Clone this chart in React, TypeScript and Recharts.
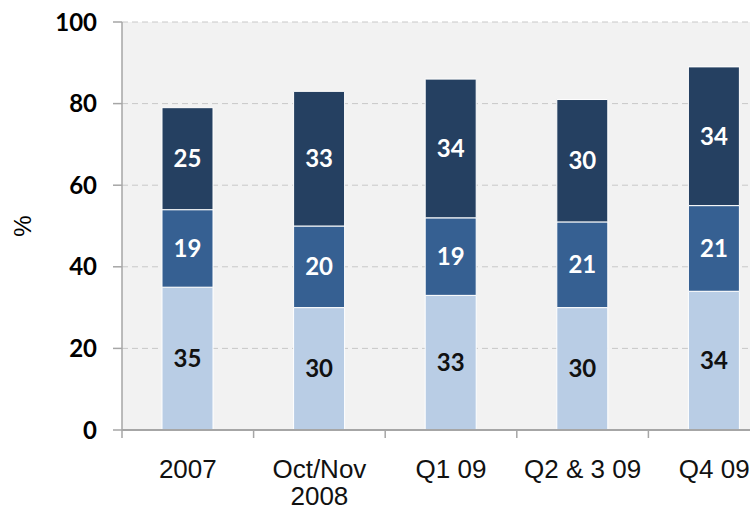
import React from "react";
import { BarChart, Bar, XAxis, YAxis, CartesianGrid, LabelList } from "recharts";

const CATEGORIES = ["2007", "Oct/Nov\n2008", "Q1 09", "Q2 & 3 09", "Q4 09"];
const LIGHT = [35, 30, 33, 30, 34];
const MID = [19, 20, 19, 21, 21];
const DARK = [25, 33, 34, 30, 34];
const Y_TICKS = [0, 20, 40, 60, 80, 100];

const data = CATEGORIES.map((name, i) => ({
  name,
  light: LIGHT[i],
  mid: MID[i],
  dark: DARK[i],
}));

const AXIS_GREY = "#a6a6a6";
const LABEL_FONT = "Lato, 'Open Sans', sans-serif";
const ARIAL = "'Liberation Sans', Arial, sans-serif";

function XTick(props: any) {
  const { x, y, payload } = props;
  const half = payload.offset ?? 65.8;
  const lines = String(payload.value).split("\n");
  return (
    <g>
      <line x1={x - half} x2={x - half} y1={y} y2={y + 8} stroke={AXIS_GREY} strokeWidth={1.5} />
      <text x={x} y={y + 48} textAnchor="middle" fontFamily={ARIAL} fontSize={26} fill="#111">
        {lines.map((l, i) => (
          <tspan key={i} x={x} dy={i === 0 ? 0 : 27}>
            {l}
          </tspan>
        ))}
      </text>
    </g>
  );
}

function PercentLabel(props: any) {
  const vb = props.viewBox || {};
  const cx = 22;
  const cy = (vb.y ?? 22) + (vb.height ?? 408) / 2;
  return (
    <text
      x={cx}
      y={cy}
      transform={`rotate(-90, ${cx}, ${cy})`}
      textAnchor="middle"
      dominantBaseline="central"
      fontFamily={ARIAL}
      fontSize={24}
      fill="#000"
    >
      %
    </text>
  );
}

const labelStyle = (fill: string) => ({
  fill,
  fontFamily: LABEL_FONT,
  fontWeight: 700,
  fontSize: 24,
});

export default function App() {
  return (
    <div
      style={{
        position: "fixed",
        top: 0,
        left: 0,
        width: 750,
        height: 510,
        overflow: "hidden",
        background: "#fff",
      }}
    >
      <BarChart
        width={800}
        height={510}
        data={data}
        margin={{ top: 22, right: 20, bottom: 0, left: 0 }}
        barSize={51}
      >
        <CartesianGrid vertical={false} fill="#f2f2f2" stroke="#c8c8c8" strokeDasharray="6 4" />
        <XAxis
          dataKey="name"
          height={80}
          interval={0}
          tick={<XTick />}
          tickLine={false}
          tickSize={0}
          tickMargin={0}
          axisLine={{ stroke: AXIS_GREY, strokeWidth: 2 }}
        />
        <YAxis
          width={122}
          domain={[0, 100]}
          ticks={Y_TICKS}
          tickSize={9}
          tickMargin={16}
          tickLine={{ stroke: AXIS_GREY, strokeWidth: 1.5 }}
          axisLine={{ stroke: AXIS_GREY, strokeWidth: 1.5 }}
          tick={{ fill: "#000", fontFamily: LABEL_FONT, fontWeight: 700, fontSize: 24 }}
          label={<PercentLabel />}
        />
        <Bar dataKey="light" stackId="a" fill="#b9cde5" stroke="#ffffff" strokeWidth={1} isAnimationActive={false}>
          <LabelList dataKey="light" position="center" style={labelStyle("#111")} />
        </Bar>
        <Bar dataKey="mid" stackId="a" fill="#366092" stroke="#ffffff" strokeWidth={1} isAnimationActive={false}>
          <LabelList dataKey="mid" position="center" style={labelStyle("#fff")} />
        </Bar>
        <Bar dataKey="dark" stackId="a" fill="#254061" stroke="#ffffff" strokeWidth={1} isAnimationActive={false}>
          <LabelList dataKey="dark" position="center" style={labelStyle("#fff")} />
        </Bar>
      </BarChart>
    </div>
  );
}
